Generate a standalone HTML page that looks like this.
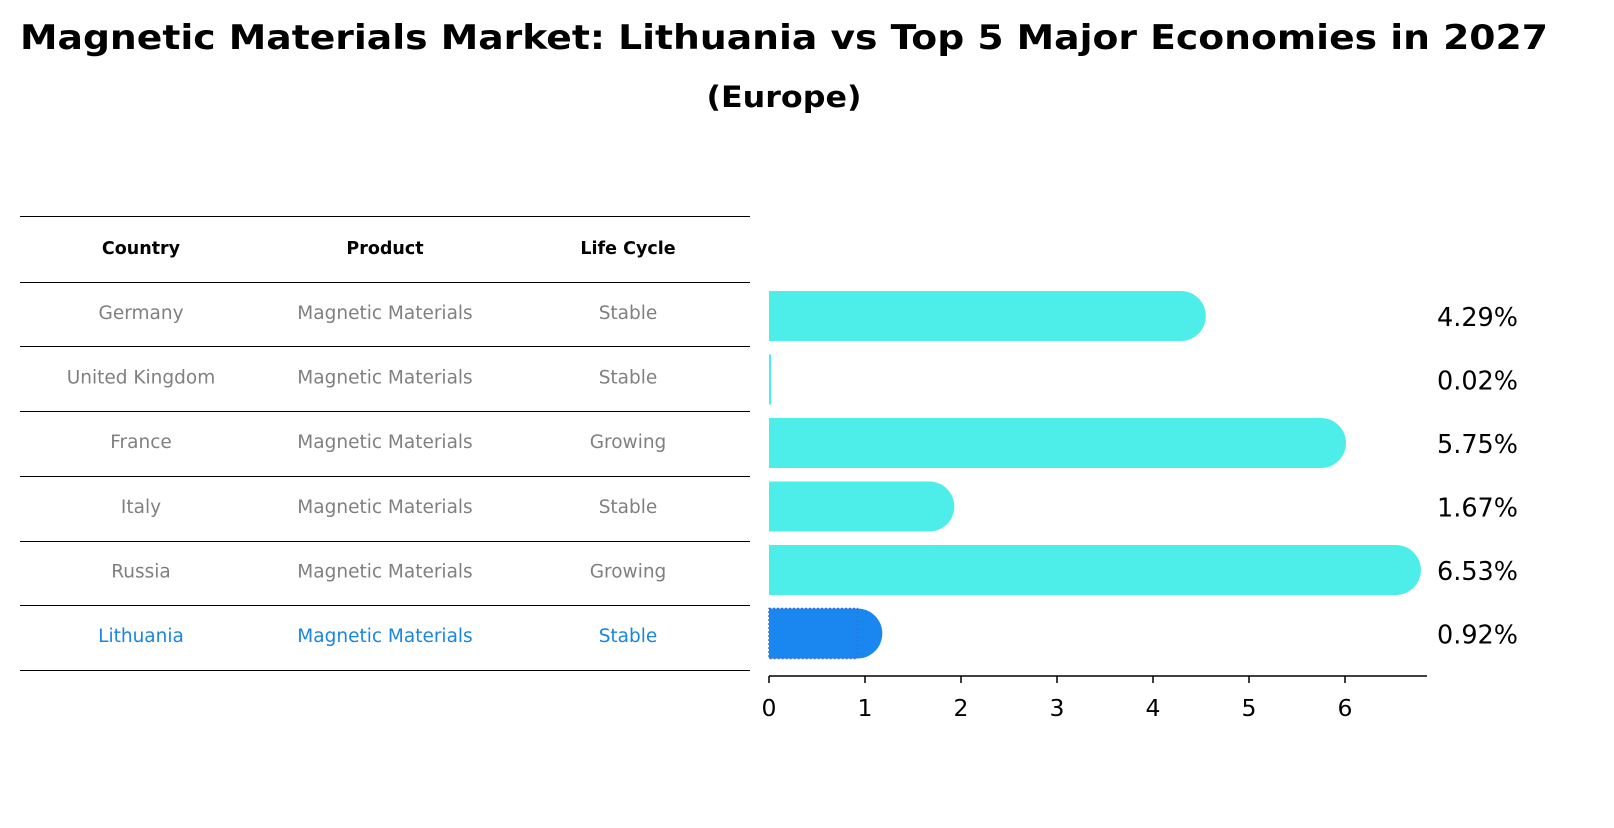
<!DOCTYPE html>
<html><head><meta charset="utf-8"><style>
body{margin:0;background:#fff;font-family:"Liberation Sans","DejaVu Sans",sans-serif;}
svg text{font-family:"DejaVu Sans","Liberation Sans",sans-serif;}
</style></head><body>
<svg id="c" width="1614" height="823" xmlns="http://www.w3.org/2000/svg">
<text x="784" y="49" text-anchor="middle" font-size="34" font-weight="bold" textLength="1528" lengthAdjust="spacingAndGlyphs">Magnetic Materials Market: Lithuania vs Top 5 Major Economies in 2027</text>
<text x="784" y="107" text-anchor="middle" font-size="29" font-weight="bold" textLength="155" lengthAdjust="spacingAndGlyphs">(Europe)</text>
<g id="tbl"></g>
<g id="bars"></g>
</svg>
<script>
const countries=["Germany","United Kingdom","France","Italy","Russia","Lithuania"];
const products=["Magnetic Materials","Magnetic Materials","Magnetic Materials","Magnetic Materials","Magnetic Materials","Magnetic Materials"];
const lifeCycles=["Stable","Stable","Growing","Stable","Growing","Stable"];
const values=[4.29,0.02,5.75,1.67,6.53,0.92];
const ticks=[0,1,2,3,4,5,6];
const NS="http://www.w3.org/2000/svg";
function mk(t,a,p){const e=document.createElementNS(NS,t);for(const k in a)e.setAttribute(k,a[k]);p.appendChild(e);return e;}
const tbl=document.getElementById('tbl'),bars=document.getElementById('bars');
const x=v=>769+v*96;
const rowY=i=>316+i*63.5;
const lineYs=[216.5,282.5,346.5,411.5,476.5,541.5,605.5,670.5];
lineYs.forEach(y=>{const l=mk('line',{x1:20,x2:750,y1:y,y2:y,stroke:'#000','stroke-width':1},tbl);

});
const cols=[141,385,628];
["Country","Product","Life Cycle"].forEach((h,j)=>{const t=mk('text',{x:cols[j],y:254,'text-anchor':'middle','font-size':17.5,'font-weight':'bold'},tbl);t.textContent=h;

});
countries.forEach((c,i)=>{const col=i===5?'#1a86e0':'#808080';
[c,products[i],lifeCycles[i]].forEach((s,j)=>{const t=mk('text',{x:cols[j],y:319+i*64.6,'text-anchor':'middle','font-size':18.5,fill:col},tbl);t.textContent=s;

});});
values.forEach((v,i)=>{const cy=rowY(i),col=i===5?'#1a86f0':'#4dedea';
const g=mk('g',{},bars);


if(v<0.1){mk('rect',{x:769,y:cy-25,width:Math.max(2,x(v)-769),height:50,fill:col},g);}
else{mk('rect',{x:769,y:cy-25,width:x(v)-769,height:50,fill:col},g);
mk('circle',{cx:x(v),cy:cy,r:25,fill:col},g);}
if(i===5)mk('rect',{x:769,y:cy-25,width:x(v)-769,height:50,fill:'none',stroke:'#3a6fd0','stroke-dasharray':'2 2','stroke-width':1.5},g);
const t=mk('text',{x:1437,y:cy+10,'font-size':25.5},bars);t.textContent=v.toFixed(2)+'%';

});
const ax=mk('line',{x1:769,x2:1427,y1:676,y2:676,stroke:'#000','stroke-width':1.5},bars);


ticks.forEach(tk=>{mk('line',{x1:x(tk),x2:x(tk),y1:676,y2:683,stroke:'#000','stroke-width':1.5},bars);
const t=mk('text',{x:x(tk),y:716,'text-anchor':'middle','font-size':23.5},bars);t.textContent=tk;

});
</script>
</body></html>
